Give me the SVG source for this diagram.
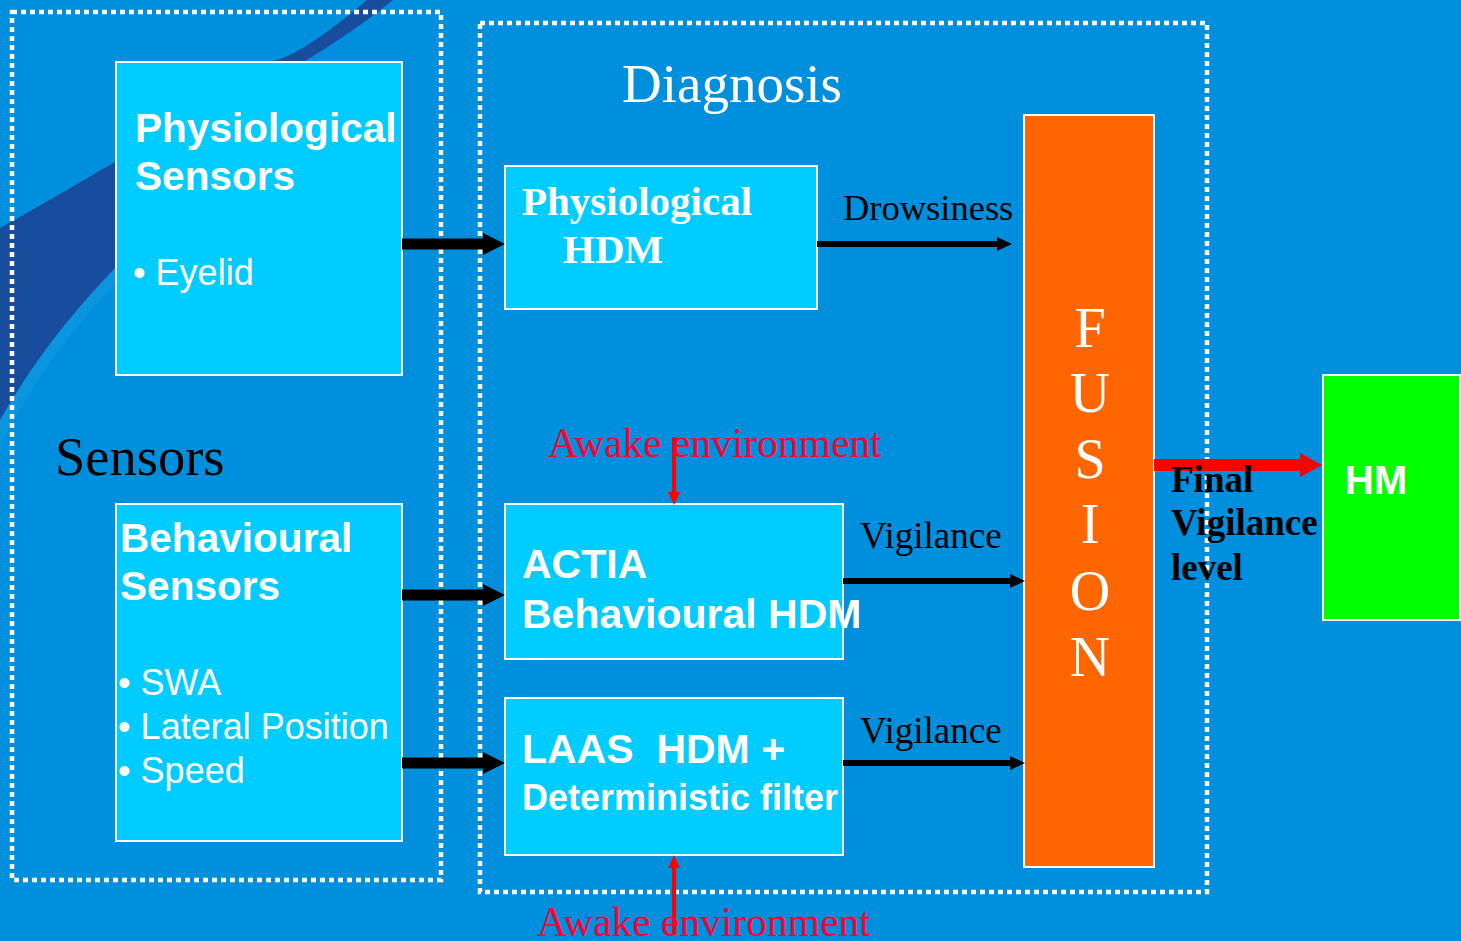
<svg xmlns="http://www.w3.org/2000/svg" width="1461" height="941" viewBox="0 0 1461 941">
<style>
.box{fill:#00ccff;stroke:#ffffff;stroke-width:2}
.dot{fill:none;stroke:#ffffff;stroke-width:4.5;stroke-dasharray:5 4}
.sb{font-family:"Liberation Sans",Arial,sans-serif;font-weight:bold;fill:#ffffff}
.sr{font-family:"Liberation Sans",Arial,sans-serif;fill:#ffffff}
.tr{font-family:"Liberation Serif","Times New Roman",serif}
</style>
<g id="background">
<rect x="0" y="0" width="1461" height="941" fill="#008fdc"/>
<path d="M0,420 C40,350 80,305 115,268 L115,285 C70,330 35,380 0,445 Z" fill="#0b95e0"/>
<path d="M0,228 C40,206 75,185 115,162 C200,115 300,75 393,0 L367,0 C320,40 290,58 270,62 C210,150 160,215 115,268 C80,305 40,350 0,420 Z" fill="#184c9c"/>
</g>
<g id="sensors-group">
<rect class="dot" x="12" y="12" width="429" height="868"/>
<text class="tr" x="55" y="475" font-size="54.5" fill="#000000">Sensors</text>
</g>
<g id="diagnosis-group">
<rect class="dot" x="480" y="23" width="727" height="869"/>
<text class="tr" x="622" y="102" font-size="55" fill="#ffffff">Diagnosis</text>
</g>
<g id="physio-sensors">
<rect class="box" x="116" y="62" width="286" height="313"/>
<text class="sb" x="135" y="142" font-size="40.6">Physiological</text>
<text class="sb" x="135" y="190" font-size="40.6">Sensors</text>
<text class="sr" x="133" y="285" font-size="36">• Eyelid</text>
</g>
<g id="behav-sensors">
<rect class="box" x="116" y="504" width="286" height="337"/>
<text class="sb" x="120" y="552" font-size="40.6">Behavioural</text>
<text class="sb" x="120" y="600" font-size="40.6">Sensors</text>
<text class="sr" x="118" y="695" font-size="36">• SWA</text>
<text class="sr" x="118" y="739" font-size="36">• Lateral Position</text>
<text class="sr" x="118" y="783" font-size="36">• Speed</text>
</g>
<g id="physio-hdm">
<rect class="box" x="505" y="166" width="312" height="143"/>
<text class="tr" x="522" y="215" font-size="41" font-weight="bold" fill="#ffffff">Physiological</text>
<text class="tr" x="563" y="263" font-size="41" font-weight="bold" fill="#ffffff">HDM</text>
</g>
<g id="actia-hdm">
<rect class="box" x="505" y="504" width="338" height="155"/>
<text class="sb" x="522" y="578" font-size="41">ACTIA</text>
<text class="sb" x="522" y="628" font-size="41">Behavioural HDM</text>
</g>
<g id="laas-hdm">
<rect class="box" x="505" y="698" width="338" height="157"/>
<text class="sb" x="522" y="763" font-size="41" xml:space="preserve">LAAS  HDM +</text>
<text class="sb" x="522" y="810" font-size="36">Deterministic filter</text>
</g>
<g id="fusion">
<rect x="1024" y="115" width="130" height="752" fill="#ff6600" stroke="#ffffff" stroke-width="2"/>
<g class="tr" font-size="56" fill="#ffffff" text-anchor="middle">
<text x="1090" y="347">F</text>
<text x="1090" y="412">U</text>
<text x="1090" y="478">S</text>
<text x="1090" y="543">I</text>
<text x="1090" y="610">O</text>
<text x="1090" y="676">N</text>
</g>
</g>
<g id="hm">
<rect x="1323" y="375" width="137" height="245" fill="#00ff00" stroke="#ffffff" stroke-width="2"/>
<text class="sb" x="1345" y="494" font-size="40">HM</text>
</g>
<g id="connectors">
<path d="M402,238.5 L483,238.5 L483,233 L505,244 L483,255 L483,249.5 L402,249.5 Z" fill="#000000"/>
<path d="M402,589.5 L483,589.5 L483,584 L505,595 L483,606 L483,600.5 L402,600.5 Z" fill="#000000"/>
<path d="M402,757.5 L483,757.5 L483,752 L505,763 L483,774 L483,768.5 L402,768.5 Z" fill="#000000"/>
<path d="M817,241 L997,241 L997,237 L1012,244 L997,251 L997,247 L817,247 Z" fill="#000000"/>
<path d="M843,578 L1010,578 L1010,574 L1025,581 L1010,588 L1010,584 L843,584 Z" fill="#000000"/>
<path d="M843,760 L1010,760 L1010,756 L1025,763 L1010,770 L1010,766 L843,766 Z" fill="#000000"/>
<path d="M1154,459 L1300,459 L1300,453 L1322,465 L1300,477 L1300,471 L1154,471 Z" fill="#ff0000"/>
<path d="M672,437 L676,437 L676,492 L680,492 L674,505 L668,492 L672,492 Z" fill="#ff0000"/>
<path d="M672,935 L676,935 L676,868 L680,868 L674,855 L668,868 L672,868 Z" fill="#ff0000"/>
<text class="tr" x="843" y="220" font-size="36.5" fill="#000000">Drowsiness</text>
<text class="tr" x="860" y="548" font-size="37" fill="#000000">Vigilance</text>
<text class="tr" x="860" y="743" font-size="37" fill="#000000">Vigilance</text>
<text class="tr" x="548" y="457" font-size="41.5" fill="#ff0033">Awake environment</text>
<text class="tr" x="537" y="936" font-size="41.5" fill="#ff0033">Awake environment</text>
<text class="tr" x="1171" y="492" font-size="37" font-weight="bold" fill="#000000">Final</text>
<text class="tr" x="1171" y="535" font-size="37" font-weight="bold" fill="#000000">Vigilance</text>
<text class="tr" x="1171" y="580" font-size="37" font-weight="bold" fill="#000000">level</text>
</g>
</svg>
